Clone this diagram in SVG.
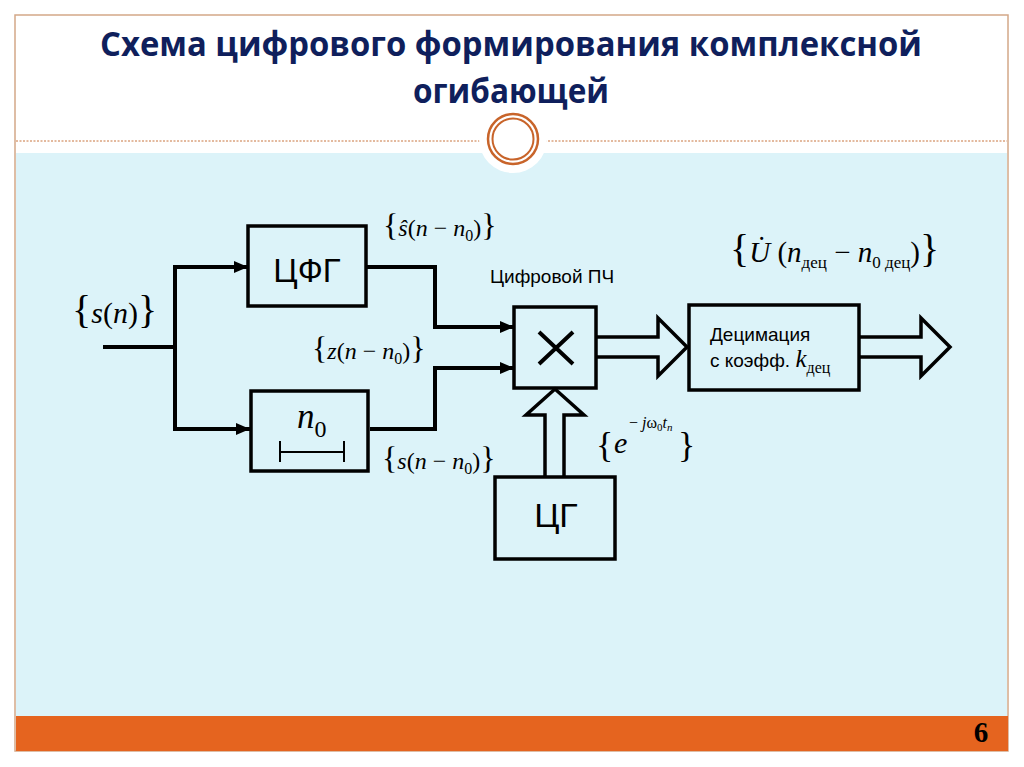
<svg xmlns="http://www.w3.org/2000/svg" width="1024" height="767" viewBox="0 0 1024 767">
<style>
.box{fill:none;stroke:#000;stroke-width:3.5}
.wire{fill:none;stroke:#000;stroke-width:4}
.hollow{fill:#dcf3f9;stroke:#000;stroke-width:3.5;stroke-linejoin:miter}
.m{font-family:"Liberation Serif","Times New Roman",serif;fill:#000}
.i{font-style:italic}
.s{font-family:"Liberation Sans",Arial,sans-serif;fill:#000}
.title{font-family:"Open Sans","Liberation Sans",sans-serif;font-weight:700;fill:#0f1f5c;font-size:34px}
</style>
<defs>
<marker id="ah" viewBox="0 0 14 12" refX="14" refY="6" markerWidth="14" markerHeight="12" markerUnits="userSpaceOnUse" orient="auto">
<path d="M0,0 L14,6 L0,12 Z" fill="#000"/>
</marker>
</defs>
<rect x="0" y="0" width="1024" height="767" fill="#ffffff"/>
<g id="frame">
<rect x="15" y="15" width="993" height="736" fill="#ffffff" stroke="#d3a888" stroke-width="1.5"/>
<rect x="16" y="153" width="991" height="563" fill="#dcf3f9"/>
<rect x="16" y="716" width="992" height="35" fill="#e5641f"/>
<line x1="16" y1="141" x2="1007" y2="141" stroke="#c8743f" stroke-width="1" stroke-dasharray="2,1.5"/>
<circle cx="513" cy="139" r="34" fill="#ffffff"/>
<circle cx="513" cy="139" r="25" fill="none" stroke="#c8642a" stroke-width="2.5"/>
<circle cx="513" cy="139" r="20.5" fill="none" stroke="#c8642a" stroke-width="2"/>
<text x="981" y="742" text-anchor="middle" font-family="Liberation Serif,serif" font-weight="700" font-size="29" fill="#000">6</text>
</g>
<g id="title">
<text class="title" x="511" y="56" text-anchor="middle" textLength="822" lengthAdjust="spacingAndGlyphs">Схема цифрового формирования комплексной</text>
<text class="title" x="511" y="103" text-anchor="middle" textLength="196" lengthAdjust="spacingAndGlyphs">огибающей</text>
</g>
<g id="connectors">
<polyline class="wire" points="103,347 175,347"/>
<polyline class="wire" points="175,265 175,431"/>
<polyline class="wire" points="173,267 248,267" marker-end="url(#ah)"/>
<polyline class="wire" points="173,429 250,429" marker-end="url(#ah)"/>
<polyline class="wire" points="366,267 435,267 435,327 514,327" marker-end="url(#ah)"/>
<polyline class="wire" points="370,429 435,429 435,368 514,368" marker-end="url(#ah)"/>
<path class="hollow" d="M597,337 L658,337 L658,318 L687,347 L658,376 L658,357 L597,357"/>
<path class="hollow" d="M860,337 L921,337 L921,318 L950,347 L921,376 L921,357 L860,357"/>
<path class="hollow" d="M545,476 L545,415 L526,415 L555,389 L584,415 L564,415 L564,476"/>
</g>
<g id="cfg">
<rect class="box" x="248" y="226" width="118" height="80" fill="#dcf3f9"/>
<text class="s" x="307" y="282" text-anchor="middle" font-size="33">ЦФГ</text>
</g>
<g id="delay">
<rect class="box" x="251" y="391" width="117" height="80"/>
<text class="m" x="297" y="428"><tspan class="i" font-size="35">n</tspan><tspan font-size="24" dy="9">0</tspan></text>
<path d="M280,452 H344 M280,441 V462 M344,441 V462" stroke="#000" stroke-width="2" fill="none"/>
</g>
<g id="mult">
<rect class="box" x="514" y="307" width="82" height="81"/>
<path d="M539,332 L573,364 M573,332 L539,364" stroke="#000" stroke-width="4" fill="none"/>
<text class="s" x="490" y="283" font-size="19">Цифровой ПЧ</text>
</g>
<g id="dec">
<rect class="box" x="689" y="305" width="170" height="85"/>
<text class="s" x="710" y="341" font-size="19">Децимация</text>
<text class="s" x="710" y="367" font-size="19">с коэфф. <tspan class="m i" font-size="25">k</tspan><tspan class="m" font-size="16" dy="6">дец</tspan></text>
</g>
<g id="cg">
<rect class="box" x="495" y="477" width="120" height="82"/>
<text class="s" x="556" y="527" text-anchor="middle" font-size="34">ЦГ</text>
</g>
<g id="labels">
<text class="m" x="72" y="323" font-size="30"><tspan font-size="40">{</tspan><tspan class="i">s</tspan>(<tspan class="i">n</tspan>)<tspan font-size="40">}</tspan></text>
<text class="m" x="383" y="236" font-size="24"><tspan font-size="32">{</tspan><tspan class="i">ŝ</tspan>(<tspan class="i">n</tspan> − <tspan class="i">n</tspan><tspan font-size="16" dy="5">0</tspan><tspan dy="-5">)</tspan><tspan font-size="32">}</tspan></text>
<text class="m" x="312" y="359" font-size="24"><tspan font-size="32">{</tspan><tspan class="i">z</tspan>(<tspan class="i">n</tspan> − <tspan class="i">n</tspan><tspan font-size="16" dy="5">0</tspan><tspan dy="-5">)</tspan><tspan font-size="32">}</tspan></text>
<text class="m" x="382" y="469" font-size="24"><tspan font-size="32">{</tspan><tspan class="i">s</tspan>(<tspan class="i">n</tspan> − <tspan class="i">n</tspan><tspan font-size="16" dy="5">0</tspan><tspan dy="-5">)</tspan><tspan font-size="32">}</tspan></text>
<text class="m" x="730" y="262" font-size="29"><tspan font-size="40">{</tspan><tspan class="i">U̇</tspan> (<tspan class="i">n</tspan><tspan font-size="17" dy="6">дец</tspan><tspan dy="-6"> − </tspan><tspan class="i">n</tspan><tspan font-size="17" dy="6">0 дец</tspan><tspan dy="-6">)</tspan><tspan font-size="40">}</tspan></text>
<text class="m" x="596" y="457" font-size="36">{</text>
<text class="m i" x="614" y="453" font-size="30">e</text>
<text class="m" x="629" y="428" font-size="16">− <tspan class="i">j</tspan>ω<tspan font-size="11" dy="3">0</tspan><tspan class="i" font-size="16" dy="-3">t</tspan><tspan class="i" font-size="11" dy="3">n</tspan></text>
<text class="m" x="678" y="457" font-size="36">}</text>
</g>
</svg>
